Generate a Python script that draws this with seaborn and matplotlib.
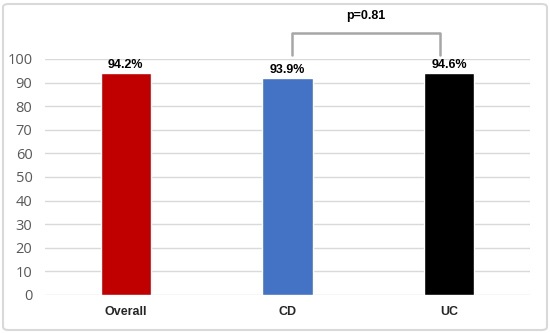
import numpy as np
import pandas as pd
import seaborn as sns
import matplotlib.pyplot as plt
from matplotlib.patches import FancyBboxPatch

# data
groups = ["Overall", "CD", "UC"]
heights = [94.0, 92.0, 94.0]
value_labels = ["94.2%", "93.9%", "94.6%"]
bar_colors = ["#C00000", "#4472C4", "#000000"]
p_text = "p=0.81"

df = pd.DataFrame({"group": groups, "value": heights})

sns.set_style("white")
plt.rcParams["font.family"] = ["Liberation Sans", "DejaVu Sans"]

fig = plt.figure(figsize=(5.5, 3.33), dpi=100)
ax = fig.add_axes([45 / 550, 1 - 295 / 333, 485 / 550, 236 / 333])

sns.barplot(data=df, x="group", y="value", hue="group", palette=bar_colors,
            width=0.31, legend=False, ax=ax, saturation=1)

ax.set_xlim(-0.5, 2.5)
ax.set_ylim(0, 100)
ax.set_yticks(np.arange(0, 101, 10))
ax.yaxis.grid(True, color="#D9D9D9", linewidth=1)
ax.set_axisbelow(True)
for s in ax.spines.values():
    s.set_visible(False)
ax.set_xlabel("")
ax.set_ylabel("")
ax.tick_params(axis="y", length=0, pad=9, labelsize=10.5, labelcolor="#595959")
ax.tick_params(axis="x", length=0, pad=8)
for lbl in ax.get_yticklabels():
    lbl.set_family(["Open Sans", "DejaVu Sans"])
for lbl in ax.get_xticklabels():
    lbl.set_fontweight("bold")
    lbl.set_fontsize(9)

# value labels above bars
for i, (h, t) in enumerate(zip(heights, value_labels)):
    ax.text(i, h + 0.8, t, ha="center", va="bottom", fontsize=9,
            fontweight="bold", color="black")

# significance bracket between CD and UC
bx = [1.025, 1.025, 1.945, 1.945]
by = [101.7, 111, 111, 101.7]
ax.plot(bx, by, color="#A6A6A6", linewidth=1.8, clip_on=False,
        solid_joinstyle="round")
ax.text((bx[0] + bx[-1]) / 2, 115.5, p_text, ha="center", va="bottom",
        fontsize=9, fontweight="bold", color="black", clip_on=False)

# chart border
border = FancyBboxPatch((3 / 550, 3 / 333), 544 / 550, 326 / 333,
                        boxstyle="round,pad=0,rounding_size=0.01",
                        transform=fig.transFigure, fill=False,
                        edgecolor="#D9D9D9", linewidth=1.5)
fig.patches.append(border)

fig.savefig("out.png", dpi=100)
